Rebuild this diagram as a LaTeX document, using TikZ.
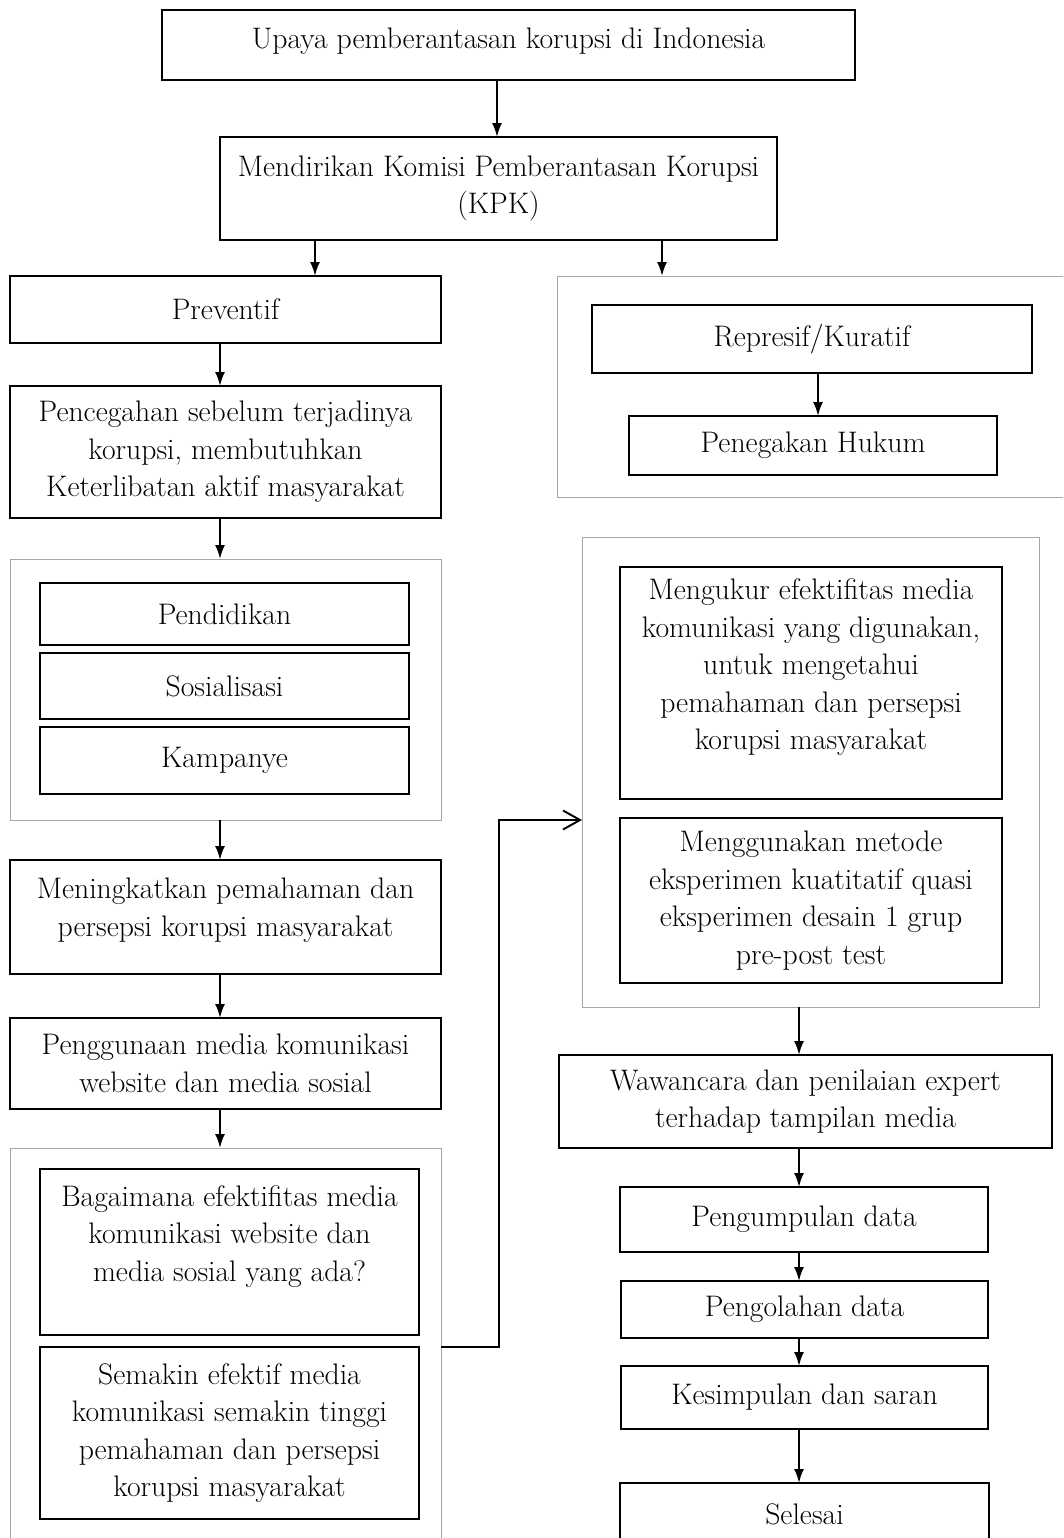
\documentclass[tikz,border=0pt]{standalone}
\usepackage{amsmath}
\usepackage{tikz}
\usetikzlibrary{arrows.meta}

\begin{document}
\begin{tikzpicture}
[x=0.02cm, y=-0.02cm,
 every node/.style={inner sep=0pt, outer sep=0pt, align=center,
   font=\fontsize{16.9}{21.3}\selectfont},
 box/.style 2 args={draw, line width=1.1pt, minimum width=#1*0.02cm, minimum height=#2*0.02cm},
 frame/.style 2 args={draw=gray!70, line width=0.5pt, minimum width=#1*0.02cm, minimum height=#2*0.02cm},
 arr/.style={line width=1.1pt, -{Latex[length=2.8mm,width=2mm]}},
 barb/.style={line width=1.1pt, -{Straight Barb[length=3.4mm,width=3.8mm]}}]
\useasboundingbox (0,0) rectangle (1063,1538);
\clip (0,0) rectangle (1063,1538);

% outer frames
\node[frame={518}{221}] (r1) at (816,386.5) {};
\node[frame={431}{261}] (l1) at (225.5,689.5) {};
\node[frame={431}{432}] (l2) at (225.5,1364) {};
\node[frame={457}{470}] (r2) at (810.5,772) {};

% main column
\node[box={693}{70}] (upaya) at (508.5,45) {Upaya pemberantasan korupsi di Indonesia\\[-13pt]\mbox{}};
\node[box={557}{103}] (kpk) at (498.5,188.5) {Mendirikan Komisi Pemberantasan Korupsi\\(KPK)};
\node[box={431}{67}] (prev) at (225.5,309.5) {Preventif};
\node[box={440}{68}] (rep) at (812,339) {Represif/Kuratif};
\node[box={368}{59}] (hukum) at (813,445.5) {Penegakan Hukum};
\node[box={431}{132}] (cegah) at (225.5,452) {Pencegahan sebelum terjadinya\\korupsi, membutuhkan\\Keterlibatan aktif masyarakat};
\node[box={369}{62}] (didik) at (224.5,614) {Pendidikan};
\node[box={369}{66}] (sosial) at (224.5,686) {Sosialisasi};
\node[box={369}{67}] (kampanye) at (224.5,760.5) {Kampanye};
\node[box={431}{114}] (tingkat) at (225.5,917) {Meningkatkan pemahaman dan\\persepsi korupsi masyarakat\\[-10pt]\mbox{}};
\node[box={431}{91}] (guna) at (225.5,1063.5) {Penggunaan media komunikasi\\website dan media sosial};
\node[box={379}{166}] (tanya) at (229.5,1252) {Bagaimana efektifitas media\\komunikasi website dan\\media sosial yang ada?\\ \mbox{}};
\node[box={379}{172}] (hipo) at (229.5,1433) {Semakin efektif media\\komunikasi semakin tinggi\\pemahaman dan persepsi\\korupsi masyarakat};

% right column
\node[box={382}{232}] (ukur) at (811,683) {Mengukur efektifitas media\\komunikasi yang digunakan,\\untuk mengetahui\\pemahaman dan persepsi\\korupsi masyarakat\\ \mbox{}};
\node[box={382}{165}] (metode) at (811,900.5) {Menggunakan metode\\eksperimen kuatitatif quasi\\eksperimen desain 1 grup\\pre-post test};
\node[box={493}{93}] (wawan) at (805.5,1101.5) {Wawancara dan penilaian expert\\terhadap tampilan media};
\node[box={368}{65}] (kumpul) at (804,1219.5) {Pengumpulan data};
\node[box={367}{57}] (olah) at (804.5,1309.5) {Pengolahan data};
\node[box={367}{63}] (simpul) at (804.5,1397.5) {Kesimpulan dan saran};
\node[box={369}{62}] (selesai) at (804.5,1514) {Selesai};

\foreach \from/\to/\x in {upaya/kpk/497,kpk/prev/315,kpk/r1/662,rep/hukum/818,
  prev/cegah/220,cegah/l1/220,l1/tingkat/220,tingkat/guna/220,guna/l2/220,
  r2/wawan/799,wawan/kumpul/799,kumpul/olah/799,olah/simpul/799,simpul/selesai/799}
	\draw[arr] (\from.south -| \x,0) -- (\to.north -| \x,0);

\draw[barb] (l2.east |- hipo.north) -- (499,1347) |- (r2.west |- l1.south);

\end{tikzpicture}
\end{document}
